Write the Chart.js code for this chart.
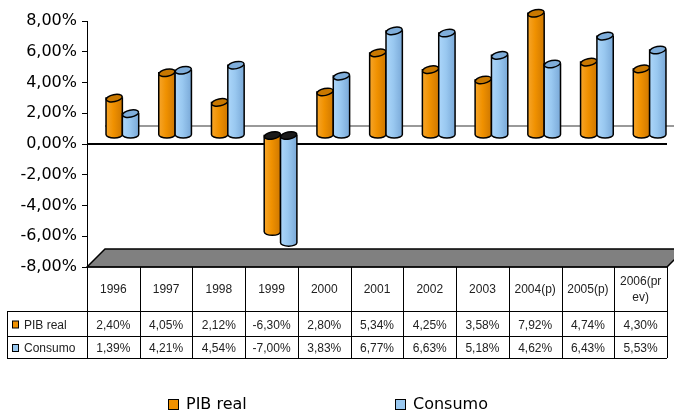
<!DOCTYPE html>
<html lang="pt">
<head>
  <meta charset="UTF-8">
  <title>PIB real e Consumo</title>
  <script src="https://cdn.jsdelivr.net/npm/chart.js"></script>
  <style>
    body { margin: 0; background: #fff; }
    canvas { display: block; }
  </style>
</head>
<body>
  <canvas id="myChart" width="674" height="414"></canvas>
  <script>
  // valores anuais (%)
  const categories = ["1996", "1997", "1998", "1999", "2000", "2001", "2002", "2003", "2004(p)", "2005(p)", "2006(prev)"];
  const pibReal = [2.40, 4.05, 2.12, -6.30, 2.80, 5.34, 4.25, 3.58, 7.92, 4.74, 4.30];
  const consumo = [1.39, 4.21, 4.54, -7.00, 3.83, 6.77, 6.63, 5.18, 4.62, 6.43, 5.53];
  const seriesNames = ["PIB real", "Consumo"];

  const colors = [
    { body: ["#f6a52a", "#f09100", "#cf7800"], top: "#c97800", key: "#f09100" },
    { body: ["#acd6fa", "#99c8f0", "#7aa9d8"], top: "#7faedb", key: "#99c8f0" }
  ];

  const depth = 18;          // profundidade do "chão" 3D
  const shift = depth / 2;   // as colunas ficam a meio da profundidade

  function fmt(v) {
    return v.toFixed(2).replace(".", ",") + "%";
  }

  function cylinder(ctx, cx, yTop, yBot, rx, c, negative) {
    const ry = 3.5;
    const g = ctx.createLinearGradient(cx - rx, 0, cx + rx, 0);
    g.addColorStop(0, c.body[0]);
    g.addColorStop(0.45, c.body[1]);
    g.addColorStop(1, c.body[2]);
    ctx.lineWidth = 1.5;
    ctx.strokeStyle = "#000";
    ctx.beginPath();
    ctx.moveTo(cx - rx, yTop);
    ctx.lineTo(cx - rx, yBot);
    ctx.ellipse(cx, yBot, rx, ry, 0, Math.PI, 0, true);
    ctx.lineTo(cx + rx, yTop);
    ctx.closePath();
    ctx.fillStyle = g;
    ctx.fill();
    ctx.stroke();
    ctx.beginPath();
    ctx.ellipse(cx, yTop, rx, ry, -0.2, 0, Math.PI * 2);
    ctx.fillStyle = negative ? "#1a1a1a" : c.top;
    ctx.fill();
    ctx.stroke();
  }

  const decor = {
    id: "decor",
    beforeDatasetsDraw(chart) {
      const ctx = chart.ctx;
      const a = chart.chartArea;
      const y0 = chart.scales.y.getPixelForValue(0);
      ctx.save();
      // chão cinzento
      ctx.beginPath();
      ctx.moveTo(a.left, a.bottom);
      ctx.lineTo(a.left + depth, a.bottom - depth);
      ctx.lineTo(a.right + depth, a.bottom - depth);
      ctx.lineTo(a.right, a.bottom);
      ctx.closePath();
      ctx.fillStyle = "#808080";
      ctx.fill();
      ctx.lineWidth = 1.5;
      ctx.strokeStyle = "#000";
      ctx.stroke();
      // linha do zero na parede de fundo
      ctx.beginPath();
      ctx.moveTo(a.left + depth, y0 - depth);
      ctx.lineTo(a.right + depth, y0 - depth);
      ctx.lineWidth = 1.5;
      ctx.strokeStyle = "#777";
      ctx.stroke();
      // linha do zero à frente
      ctx.beginPath();
      ctx.moveTo(a.left, y0);
      ctx.lineTo(a.right, y0);
      ctx.lineWidth = 2;
      ctx.strokeStyle = "#000";
      ctx.stroke();
      ctx.restore();
    },
    afterDatasetsDraw(chart) {
      const ctx = chart.ctx;
      const metas = chart.data.datasets.map((d, i) => chart.getDatasetMeta(i));
      ctx.save();
      for (let i = 0; i < categories.length; i++) {
        metas.forEach((meta, d) => {
          const bar = meta.data[i];
          const p = bar.getProps(["x", "y", "base", "width"], true);
          const v = chart.data.datasets[d].data[i];
          const cx = p.x + shift;
          const top = Math.min(p.y, p.base) - shift;
          const bot = Math.max(p.y, p.base) - shift;
          cylinder(ctx, cx, top, bot, p.width / 2, colors[d], v < 0);
        });
      }
      ctx.restore();
    },
    afterDraw(chart) {
      const ctx = chart.ctx;
      const a = chart.chartArea;
      const x = chart.scales.x;
      const cw = (a.right - a.left) / categories.length;
      const tableLeft = 7;
      const rows = [a.bottom, 311, 336, 358];
      ctx.save();
      ctx.strokeStyle = "#000";
      ctx.lineWidth = 1;
      ctx.fillStyle = "#222";
      ctx.font = "12px 'Liberation Sans', Arial, sans-serif";
      ctx.textAlign = "center";
      ctx.textBaseline = "middle";

      // grelha da tabela
      ctx.beginPath();
      ctx.moveTo(a.left, rows[0]);
      ctx.lineTo(a.right, rows[0]);
      for (let r = 1; r < rows.length; r++) {
        ctx.moveTo(tableLeft, rows[r] + 0.5);
        ctx.lineTo(a.right, rows[r] + 0.5);
      }
      ctx.moveTo(tableLeft + 0.5, rows[1]);
      ctx.lineTo(tableLeft + 0.5, rows[3]);
      for (let i = 0; i <= categories.length; i++) {
        const cx = Math.round(a.left + i * cw) + 0.5;
        ctx.moveTo(cx, rows[0]);
        ctx.lineTo(cx, rows[3]);
      }
      ctx.stroke();

      // cabeçalho com os anos (parte em duas linhas se não couber)
      const maxW = cw - 8;
      categories.forEach((lab, i) => {
        const cx = x.getPixelForValue(i);
        const midY = (rows[0] + rows[1]) / 2;
        if (ctx.measureText(lab).width > maxW) {
          let n = lab.length;
          while (n > 1 && ctx.measureText(lab.slice(0, n)).width > maxW) n--;
          ctx.fillText(lab.slice(0, n), cx, midY - 7);
          ctx.fillText(lab.slice(n), cx, midY + 9);
        } else {
          ctx.fillText(lab, cx, midY + 1);
        }
      });

      // linhas de valores
      chart.data.datasets.forEach((ds, d) => {
        const midY = (rows[d + 1] + rows[d + 2]) / 2 + 2;
        ds.data.forEach((v, i) => {
          ctx.fillText(fmt(v), x.getPixelForValue(i), midY);
        });
        ctx.fillStyle = colors[d].key;
        ctx.fillRect(12.5, midY - 4.5, 6, 7);
        ctx.strokeRect(12.5, midY - 4.5, 6, 7);
        ctx.fillStyle = "#222";
        ctx.textAlign = "left";
        ctx.fillText(ds.label, 24, midY);
        ctx.textAlign = "center";
      });

      // legenda
      const legendX = [168, 395];
      ctx.font = "16px 'DejaVu Sans', sans-serif";
      ctx.textAlign = "left";
      chart.data.datasets.forEach((ds, d) => {
        ctx.fillStyle = colors[d].key;
        ctx.fillRect(legendX[d] + 0.5, 399.5, 10, 10);
        ctx.strokeRect(legendX[d] + 0.5, 399.5, 10, 10);
        ctx.fillStyle = "#000";
        ctx.fillText(ds.label, legendX[d] + 18, 405);
      });
      ctx.restore();
    }
  };

  const config = {
    type: "bar",
    data: {
      labels: categories,
      datasets: [
        { label: seriesNames[0], data: pibReal, backgroundColor: "rgba(0,0,0,0)", borderWidth: 0 },
        { label: seriesNames[1], data: consumo, backgroundColor: "rgba(0,0,0,0)", borderWidth: 0 }
      ]
    },
    options: {
      responsive: false,
      animation: false,
      devicePixelRatio: 1,
      layout: { padding: { left: 0, right: 7, top: 21, bottom: 147 } },
      datasets: { bar: { categoryPercentage: 0.62, barPercentage: 1.0 } },
      plugins: { legend: { display: false }, tooltip: { enabled: false } },
      scales: {
        x: { display: false },
        y: {
          min: -8,
          max: 8,
          afterFit(scale) { scale.width = 87; },
          ticks: {
            stepSize: 2,
            padding: 5,
            color: "#000",
            font: { family: "'DejaVu Sans', sans-serif", size: 16 },
            callback: (v) => fmt(v)
          },
          grid: { drawOnChartArea: false, tickLength: 5, tickColor: "#000" },
          border: { display: true, color: "#000", width: 1 }
        }
      }
    },
    plugins: [decor]
  };

  new Chart(document.getElementById("myChart"), config);
  </script>
</body>
</html>
